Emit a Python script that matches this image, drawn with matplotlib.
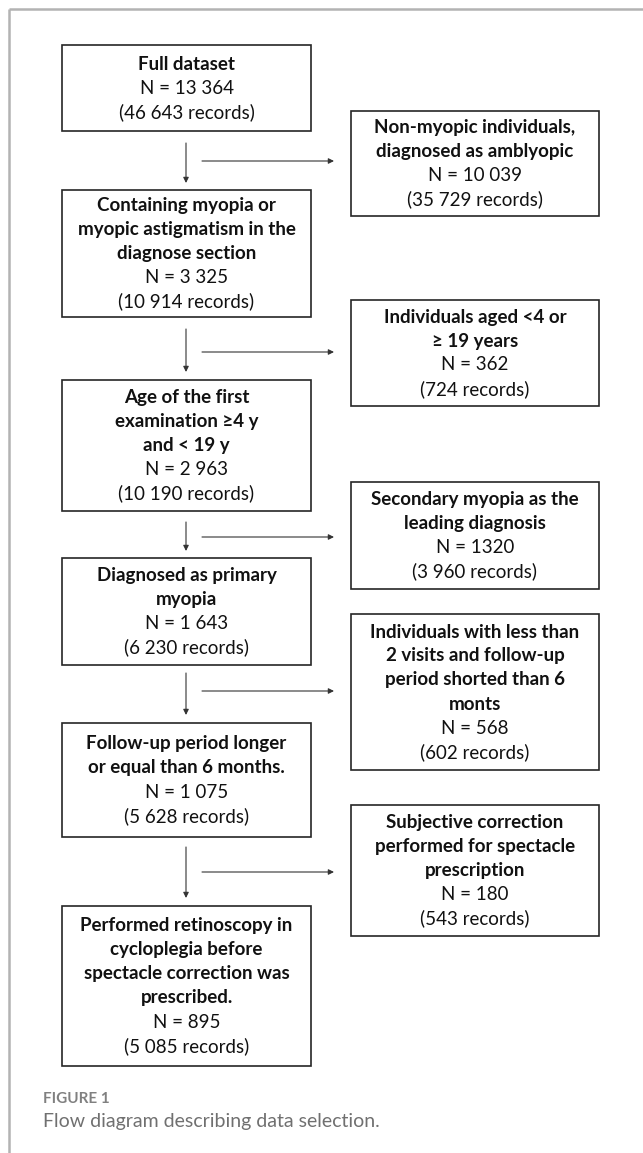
import matplotlib.pyplot as plt
from matplotlib.patches import Rectangle

# box texts, left column = kept records, right column = excluded
left_titles = [
    ["Full dataset"],
    ["Containing myopia or", "myopic astigmatism in the", "diagnose section"],
    ["Age of the first", "examination \u22654 y", "and < 19 y"],
    ["Diagnosed as primary", "myopia"],
    ["Follow-up period longer", "or equal than 6 months."],
    ["Performed retinoscopy in", "cycloplegia before", "spectacle correction was", "prescribed."],
]
left_n = ["13 364", "3 325", "2 963", "1 643", "1 075", "895"]
left_records = ["46 643", "10 914", "10 190", "6 230", "5 628", "5 085"]

right_titles = [
    ["Non-myopic individuals,", "diagnosed as amblyopic"],
    ["Individuals aged <4 or", "\u2265 19 years"],
    ["Secondary myopia as the", "leading diagnosis"],
    ["Individuals with less than", "2 visits and follow-up", "period shorted than 6", "monts"],
    ["Subjective correction", "performed for spectacle", "prescription"],
]
right_n = ["10 039", "362", "1320", "568", "180"]
right_records = ["35 729", "724", "3 960", "602", "543"]

caption_label = "FIGURE 1"
caption_text = "Flow diagram describing data selection."

# layout in pixels (top-left origin)
W, H = 643, 1153
left_x = (62, 311)
right_x = (351, 599)
left_y = [(45, 131), (190, 317), (380, 511), (558, 665), (723, 837), (906, 1066)]
right_y = [(111, 216), (300, 406), (482, 589), (614, 770), (805, 936)]
arrow_x = 186
arrow_y = [(143, 183, 161), (329, 372, 352), (522, 551, 537),
           (673, 715, 691), (847, 898, 872)]
line_h = 24

FONT = "Lato"
FS = 13.5

fig = plt.figure(figsize=(W / 100, H / 100), dpi=100)
ax = fig.add_axes([0, 0, 1, 1])
ax.set_xlim(0, W)
ax.set_ylim(H, 0)
ax.axis("off")

# page frame
ax.plot([9, 9], [9, H], color="#b3b3b3", lw=1.8, solid_capstyle="butt")
ax.plot([9, W], [9, 9], color="#b3b3b3", lw=1.8, solid_capstyle="butt")


def draw_box(xr, yr, title, n, rec):
    ax.add_patch(Rectangle((xr[0], yr[0]), xr[1] - xr[0], yr[1] - yr[0],
                           fill=False, ec="#262626", lw=1.2))
    lines = [(t, "bold") for t in title] + [("N = " + n, "normal"),
                                            ("(" + rec + " records)", "normal")]
    cx = (xr[0] + xr[1]) / 2
    cy = (yr[0] + yr[1]) / 2
    top = cy - (len(lines) - 1) * line_h / 2
    for i, (t, w) in enumerate(lines):
        ax.text(cx, top + i * line_h, t, ha="center", va="center",
                fontsize=FS, fontweight=w, family=[FONT, "DejaVu Sans"],
                color="#111111")


for i in range(len(left_titles)):
    draw_box(left_x, left_y[i], left_titles[i], left_n[i], left_records[i])
for i in range(len(right_titles)):
    draw_box(right_x, right_y[i], right_titles[i], right_n[i], right_records[i])

ap = dict(arrowstyle="-|>", lw=0.8, color="#333333", mutation_scale=8,
          shrinkA=0, shrinkB=0)
for y0, y1, yh in arrow_y:
    ax.annotate("", xy=(arrow_x, y1), xytext=(arrow_x, y0), arrowprops=ap)
    ax.annotate("", xy=(334, yh), xytext=(202, yh), arrowprops=ap)

ax.text(43, 1099, caption_label, ha="left", va="center", fontsize=11,
        fontweight="bold", family=FONT, color="#808080")
ax.text(43, 1121, caption_text, ha="left", va="center", fontsize=14,
        family=FONT, color="#707070")

fig.savefig("out.png", dpi=100)
